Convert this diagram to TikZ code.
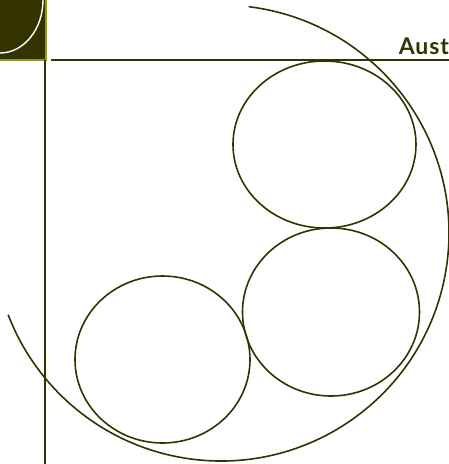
\documentclass[tikz,border=0pt]{standalone}
\usepackage{fontspec}
\usepackage{tikz}
\usepackage{xcolor}
\newfontfamily\titlefont[LetterSpace=4]{Lato}
\definecolor{olivedark}{RGB}{51,51,0}
\definecolor{olivelight}{RGB}{153,153,0}

\begin{document}
\begin{tikzpicture}[x=1pt, y=-1pt, line width=1.6pt,
  curve/.style={draw=olivedark}]
  \useasboundingbox (0,0) rectangle (449,464);
  \clip (0,0) rectangle (449,464);
  % corner block
  \fill[olivedark] (0,0) rectangle (45,59);
  \draw[white, line width=1.4pt] (43,0) arc[start angle=0, end angle=90, x radius=43, y radius=53];
  \draw[olivelight] (46.2,0) -- (46.2,60) -- (0,60);
  \draw[olivedark, line width=1.4pt] (44.8,60) -- (44.8,464);
  \draw[olivedark, line width=1.6pt] (51,60) -- (449,60);
  \node[anchor=base west, inner sep=0pt, text=olivedark, font=\titlefont\bfseries\fontsize{23}{27}\selectfont] (title) at (398,54) {Aust};
  % big arc and the three rings
  \draw[curve] (221,233) ++(-83:228) arc[start angle=-83, end angle=159, radius=228];
  \draw[curve] (324.5,144.5) ellipse[x radius=91.5, y radius=83.5];
  \draw[curve] (331,312) ellipse[x radius=88.5, y radius=84];
  \draw[curve] (162.5,359.5) ellipse[x radius=87.5, y radius=83.5];
\end{tikzpicture}
\end{document}
